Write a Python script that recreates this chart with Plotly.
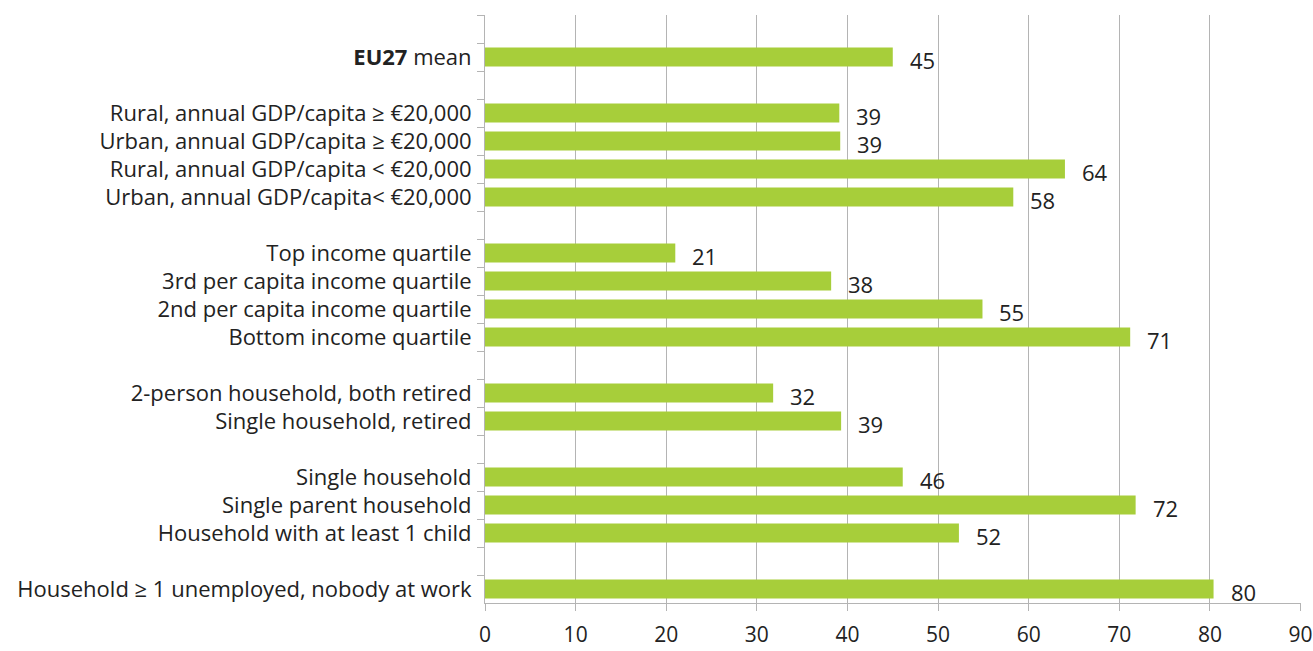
import plotly.graph_objs as go

# -----------------------------------------------------------------------
# data, top to bottom (blank rows keep the group gaps)
categories = [' ', '<b>EU27</b> mean', '  ',
              'Rural, annual GDP/capita ≥ €20,000',
              'Urban, annual GDP/capita ≥ €20,000',
              'Rural, annual GDP/capita < €20,000',
              'Urban, annual GDP/capita< €20,000', '   ',
              'Top income quartile',
              '3rd per capita income quartile',
              '2nd per capita income quartile',
              'Bottom income quartile', '    ',
              '2-person household, both retired',
              'Single household, retired', '     ',
              'Single household',
              'Single parent household',
              'Household with at least 1 child', '      ',
              'Household ≥ 1 unemployed, nobody at work']

values = [None, 45.0, None,
          39.1, 39.2, 64.0, 58.3, None,
          21.0, 38.2, 54.9, 71.2, None,
          31.8, 39.3, None,
          46.1, 71.8, 52.3, None,
          80.4]

x_ticks = [0, 10, 20, 30, 40, 50, 60, 70, 80, 90]

bar_color = '#a7ce3a'
text_color = '#222222'
grid_color = '#b4b4b4'
font_family = 'Open Sans, Liberation Sans, Arial, sans-serif'
font_size = 22

# ----------------------------------------------------------------------
fig = go.Figure()
fig.add_trace(go.Bar(
    x=values,
    y=categories,
    orientation='h',
    marker=dict(color=bar_color, line=dict(width=0)),
    width=0.68,
    hoverinfo='x+y',
    showlegend=False,
))

# value labels to the right of each bar, a touch low like the original
for c, v in zip(categories, values):
    if v is None:
        continue
    fig.add_annotation(
        x=v, y=c, xref='x', yref='y',
        text=str(round(v)),
        showarrow=False,
        xanchor='left', yanchor='middle',
        xshift=15, yshift=-3,
        font=dict(size=font_size, color=text_color, family=font_family),
    )

fig.update_layout(
    width=1313, height=651,
    margin=dict(l=485, r=12, t=15, b=48),
    plot_bgcolor='white',
    paper_bgcolor='white',
    font=dict(family=font_family, size=font_size, color=text_color),
    bargap=0.32,
    xaxis=dict(
        range=[0, 90.05],   # tiny pad so the 90 gridline is drawn
        tickvals=x_ticks,
        automargin=False,
        ticklabeloverflow='allow',
        showgrid=True, gridcolor=grid_color, gridwidth=1,
        showline=True, linecolor=grid_color, linewidth=1,
        ticks='outside', ticklen=7, tickcolor=grid_color,
        ticklabelstandoff=6,
        zeroline=False,
        tickfont=dict(size=21, color=text_color),
        fixedrange=True,
    ),
    yaxis=dict(
        type='category',
        categoryorder='array', categoryarray=categories,
        autorange='reversed',
        automargin=False,
        tickson='boundaries',
        showgrid=False,
        showline=True, linecolor=grid_color, linewidth=1,
        ticks='outside', ticklen=7, tickcolor=grid_color,
        ticklabelstandoff=8,
        tickfont=dict(size=font_size, color=text_color),
        fixedrange=True,
    ),
)

# drop the browser's default body margin so the figure sits at 0,0
fig.write_html('out.html', config={'displayModeBar': False},
               post_script="document.body.style.margin='0';")
